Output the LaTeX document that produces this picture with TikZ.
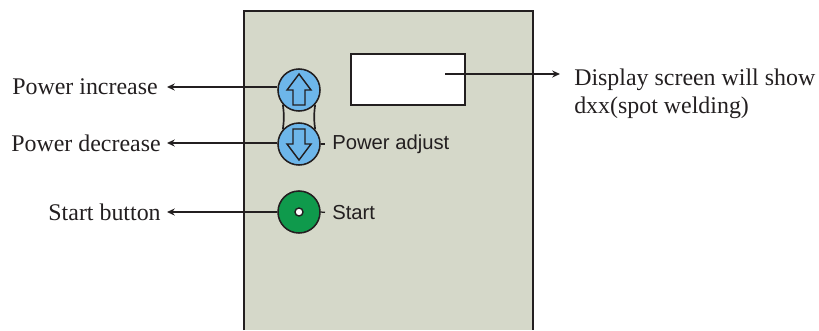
\documentclass[tikz,border=0pt]{standalone}
\usepackage{fontspec}
\setmainfont{Liberation Serif}
\setsansfont{Liberation Sans}
\usetikzlibrary{arrows.meta}
\definecolor{panelgray}{HTML}{D5D8C9}
\definecolor{btnblue}{HTML}{6DB6EA}
\definecolor{btngreen}{HTML}{0F9A4C}
\definecolor{inkdark}{HTML}{231F20}
\tikzset{
  sidelabel/.style={inner xsep=4.3pt,inner ysep=0pt,text=inkdark,font=\fontsize{17}{19.7}\selectfont},
  panellabel/.style={inner sep=0pt,text=inkdark,anchor=west,font=\sffamily\fontsize{14.4}{16}\selectfont},
  btn/.style={circle,draw=inkdark,line width=1.1pt,minimum size=1.05cm,inner sep=0pt},
  leader/.style={draw=inkdark,line width=0.9pt},
  tip/.style={{Stealth[length=5.5pt,width=5pt]}-},
  piptip/.style={-{Stealth[length=5.5pt,width=5pt]}},
}
\begin{document}
\begin{tikzpicture}[x=0.025cm,y=-0.025cm]
  \useasboundingbox (0,0) rectangle (819,330);
  % panel, runs off the bottom edge
  \fill[panelgray] (244,11) rectangle (533,330);
  \draw[inkdark,line width=1.1pt] (244,330) -- (244,11) -- (533,11) -- (533,330);
  % display
  \node[draw=inkdark,fill=white,line width=1.1pt,minimum width=2.85cm,minimum height=1.275cm,inner sep=0pt] (screen) at (408,79.5) {};
  \coordinate (screenend) at (445,74);
  % buttons
  \node[btn,fill=btnblue] (btnup) at (299,90) {};
  \node[btn,fill=btnblue] (btndown) at (299,144) {};
  \node[btn,fill=btngreen] (btnstart) at (299,212) {};
  \node[circle,draw=inkdark,fill=white,line width=1pt,minimum size=0.2cm,inner sep=0pt] (btnpip) at (299,212) {};
  % links between the two blue buttons
  \draw[inkdark,line width=1.2pt] (btnup.222) to[bend left=8] (btndown.138);
  \draw[inkdark,line width=1.2pt] (btnup.318) to[bend right=8] (btndown.42);
  % arrow glyphs
  \foreach \nm/\sy in {btnup/1,btndown/-1}{
    \begin{scope}[shift={(\nm)},yscale=\sy]
      \draw[inkdark,line width=1pt,line join=miter] (0,-16) -- (12,0) -- (6,0) -- (6,15) -- (-6,15) -- (-6,0) -- (-12,0) -- cycle;
    \end{scope}
  }
  % left labels
  \node[sidelabel,anchor=west] (lblup) at (6,87) {Power increase};
  \node[sidelabel,anchor=east] (lbldown) at (167,143) {Power decrease};
  \node[sidelabel,anchor=east] (lblstart) at (167,212) {Start button};
  \draw[leader,tip] (lblup.east -| lbldown.east) -- (btnup.west |- lblup.east);
  \draw[leader,tip] (lbldown.east) -- (btndown.west |- lbldown.east);
  \draw[leader,tip] (lblstart.east) -- (btnstart.west);
  % panel labels
  \node[panellabel] (txtadjust) at (332,144) {Power adjust};
  \node[panellabel] (txtstart) at (332,213) {Start};
  \draw[leader,shorten >=5pt] (btndown.east) -- (txtadjust.west);
  \draw[leader,shorten >=5pt] (btnstart.east) -- (txtstart.west);
  % right label
  \node[sidelabel,anchor=west,align=left,inner xsep=0pt] (lblscreen) at (574,94) {Display screen will show\\dxx(spot welding)};
  \draw[leader,piptip,shorten >=10pt] (screenend) -- (lblscreen.west |- screenend);
\end{tikzpicture}
\end{document}
